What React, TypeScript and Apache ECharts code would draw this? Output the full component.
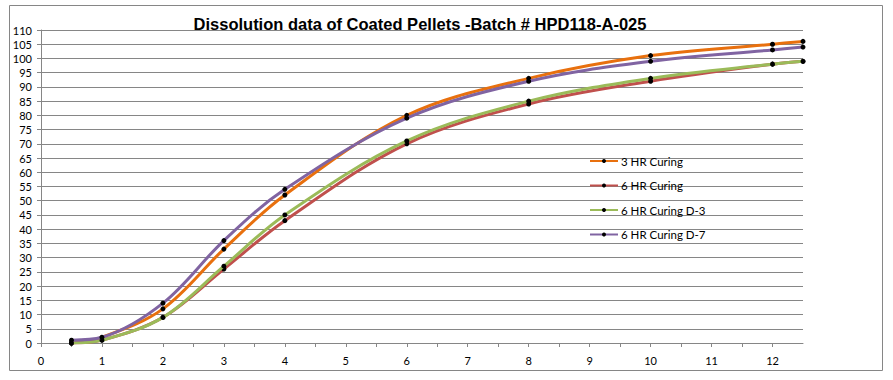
import React, { useEffect, useRef } from "react";
import * as echarts from "echarts";

const timePoints = [0.5, 1, 2, 3, 4, 6, 8, 10, 12, 12.5];
const curing3hr = [0, 2, 12, 33, 52, 80, 93, 101, 105, 106];
const curing6hr = [0, 1, 9, 26, 43, 70, 84, 92, 98, 99];
const curing6hrD3 = [0, 1, 9, 27, 45, 71, 85, 93, 98, 99];
const curing6hrD7 = [1, 2, 14, 36, 54, 79, 92, 99, 103, 104];

const seriesNames = ["3 HR Curing", "6 HR Curing", "6 HR Curing D-3", "6 HR Curing D-7"];
const seriesColors = ["#E8700E", "#C0504D", "#9BBB59", "#8064A2"];
const seriesValues = [curing3hr, curing6hr, curing6hrD3, curing6hrD7];

export default function App() {
  const ref = useRef<HTMLDivElement>(null);
  useEffect(() => {
    if (!ref.current) return;
    const chart = echarts.init(ref.current, null, { renderer: "svg" });
    const font = "Lato, 'Open Sans', sans-serif";
    chart.setOption({
      animation: false,
      backgroundColor: "#ffffff",
      graphic: [
        {
          type: "rect",
          shape: { x: 9.5, y: 5.5, width: 873, height: 365 },
          style: { fill: "none", stroke: "#868686", lineWidth: 1 },
          silent: true,
        },
      ],
      title: {
        text: "Dissolution data of Coated Pellets -Batch # HPD118-A-025",
        left: 415,
        top: 10,
        textAlign: "center",
        textStyle: {
          fontFamily: "'Liberation Sans', Arial, sans-serif",
          fontWeight: "bold",
          fontSize: 16.5,
          color: "#000",
        },
      },
      legend: {
        orient: "vertical",
        left: 589,
        top: 154,
        padding: 0,
        itemWidth: 28,
        itemHeight: 5,
        itemGap: 10.5,
        data: seriesNames,
        textStyle: {
          fontFamily: font,
          fontSize: 11.5,
          color: "#000",
          padding: [0, 0, 0, -2],
          height: 14,
          lineHeight: 14,
        },
      },
      grid: { left: 41, right: 90, top: 30, bottom: 37, containLabel: false },
      xAxis: {
        type: "value",
        min: 0,
        max: 12.5,
        interval: 0.5,
        axisLine: { show: true, lineStyle: { color: "#868686", width: 1 } },
        axisTick: { show: true, inside: false, length: 4, lineStyle: { color: "#868686" } },
        splitLine: { show: false },
        axisLabel: {
          margin: 12,
          fontFamily: font,
          fontSize: 11,
          color: "#000",
          showMaxLabel: false,
          formatter: (v: number) => (Number.isInteger(v) ? String(v) : ""),
        },
      },
      yAxis: {
        type: "value",
        min: 0,
        max: 110,
        interval: 5,
        axisLine: { show: true, lineStyle: { color: "#868686", width: 1 } },
        axisTick: { show: true, inside: false, length: 4, lineStyle: { color: "#868686" } },
        splitLine: { show: true, lineStyle: { color: "#868686", width: 1 } },
        axisLabel: { margin: 9, fontFamily: font, fontSize: 11, color: "#000" },
      },
      series: seriesValues.map((vals, i) => ({
        name: seriesNames[i],
        type: "line",
        smooth: 0.35,
        data: timePoints.map((t, j) => [t, vals[j]]),
        symbol: "circle",
        symbolSize: 5,
        showSymbol: true,
        color: seriesColors[i],
        lineStyle: { color: seriesColors[i], width: 3 },
        itemStyle: { color: "#000", borderColor: "#000", borderWidth: 0 },
        z: 2 + i,
      })),
    });
    return () => chart.dispose();
  }, []);
  return (
    <div
      ref={ref}
      style={{ position: "fixed", left: 0, top: 0, width: 893, height: 380 }}
    />
  );
}
